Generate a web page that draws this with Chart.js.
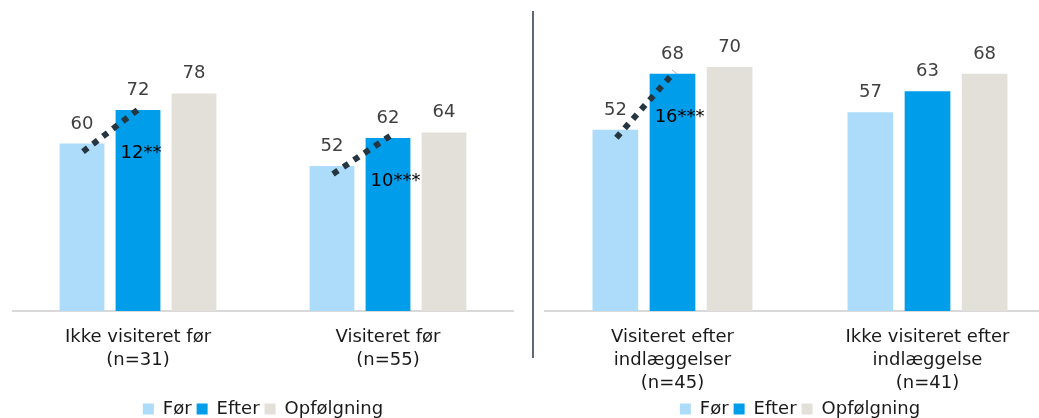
<!DOCTYPE html>
<html lang="da">
<head>
<meta charset="UTF-8">
<title>Før / Efter / Opfølgning</title>
<script src="https://cdn.jsdelivr.net/npm/chart.js"></script>
<style>
    html, body { margin: 0; padding: 0; background: #fff; }
    body { width: 1039px; height: 418px; overflow: hidden; position: relative; }
    .panel { position: absolute; top: 0; height: 428px; }
    #leftBox { left: 0; width: 537px; }
    #rightBox { left: 533px; width: 544px; }
    .divider { position: absolute; left: 532px; top: 11px; width: 2px; height: 347px; background: #5f6b73; }
</style>
</head>
<body>
<div class="panel" id="leftBox"><canvas id="leftChart"></canvas></div>
<div class="divider"></div>
<div class="panel" id="rightBox"><canvas id="rightChart"></canvas></div>
<script>
    // data
    const seriesNames = ['Før', 'Efter', 'Opfølgning'];
    const seriesColors = ['#addcfb', '#009dea', '#e2e0d8'];

    const categoriesLeft = [['Ikke visiteret før', '(n=31)'], ['Visiteret før', '(n=55)']];
    const forLeft = [60, 52];
    const efterLeft = [72, 62];
    const opfLeft = [78, 64];
    const diffLeft = ['12**', '10***'];

    const categoriesRight = [['Visiteret efter', 'indlæggelser', '(n=45)'], ['Ikke visiteret efter', 'indlæggelse', '(n=41)']];
    const forRight = [52, 57];
    const efterRight = [68, 63];
    const opfRight = [70, 68];
    const diffRight = ['16***', null];

    Chart.defaults.font.family = "'DejaVu Sans', Verdana, sans-serif";
    Chart.defaults.font.size = 18;

    // value labels above each bar
    const valueLabels = {
        id: 'valueLabels',
        afterDatasetsDraw(chart) {
            const ctx = chart.ctx;
            ctx.save();
            ctx.font = "18px 'DejaVu Sans', Verdana, sans-serif";
            ctx.fillStyle = '#404040';
            ctx.textAlign = 'center';
            ctx.textBaseline = 'alphabetic';
            chart.data.datasets.forEach((ds, i) => {
                chart.getDatasetMeta(i).data.forEach((bar, j) => {
                    ctx.fillText(ds.data[j], bar.x, bar.y - 15);
                });
            });
            ctx.restore();
        }
    };

    // dotted connector Før -> Efter with the change label
    const diffMarks = {
        id: 'diffMarks',
        afterDatasetsDraw(chart, args, opts) {
            const ctx = chart.ctx;
            const before = chart.getDatasetMeta(0).data;
            const after = chart.getDatasetMeta(1).data;
            opts.labels.forEach((txt, j) => {
                if (!txt) return;
                const a = before[j], b = after[j];
                ctx.save();
                ctx.strokeStyle = '#263641';
                ctx.lineWidth = 6;
                ctx.setLineDash([6, 6.5]);
                ctx.beginPath();
                ctx.moveTo(a.x + 1, a.y + 8);
                ctx.lineTo(b.x + 2, b.y - 2);
                ctx.stroke();
                ctx.setLineDash([]);
                ctx.font = "18px 'DejaVu Sans', Verdana, sans-serif";
                ctx.fillStyle = '#000';
                ctx.textAlign = 'left';
                ctx.textBaseline = 'middle';
                ctx.fillText(txt, b.x - b.width / 2 + 5, b.y + 43);
                ctx.restore();
            });
        }
    };

    function makeChart(id, labels, values, yMax, diffs, pad) {
        return new Chart(document.getElementById(id), {
            type: 'bar',
            data: {
                labels: labels,
                datasets: values.map((v, i) => ({
                    label: seriesNames[i],
                    data: v,
                    backgroundColor: seriesColors[i],
                    borderWidth: 0,
                    categoryPercentage: 0.672,
                    barPercentage: 0.8
                }))
            },
            options: {
                responsive: true,
                maintainAspectRatio: false,
                animation: false,
                layout: { padding: { top: 32, left: pad[0], right: pad[1], bottom: 0 } },
                scales: {
                    x: {
                        grid: { display: false, drawTicks: false },
                        border: { display: true, color: '#d9d9d9', width: 2 },
                        ticks: { color: '#1a1a1a', padding: 15, font: { size: 18, lineHeight: 1.28 }, maxRotation: 0, autoSkip: false },
                        afterFit(scale) { scale.height = 84; }
                    },
                    y: { display: false, min: 0, max: yMax }
                },
                plugins: {
                    legend: {
                        position: 'bottom',
                        labels: { boxWidth: 11, boxHeight: 11, padding: 5, color: '#1a1a1a', font: { size: 18 } }
                    },
                    tooltip: { enabled: false },
                    diffMarks: { labels: diffs }
                }
            },
            plugins: [valueLabels, diffMarks]
        });
    }

    makeChart('leftChart', categoriesLeft, [forLeft, efterLeft, opfLeft], 100, diffLeft, [13, 24]);
    makeChart('rightChart', categoriesRight, [forRight, efterRight, opfRight], 80, diffRight, [12, 22]);
</script>
</body>
</html>
